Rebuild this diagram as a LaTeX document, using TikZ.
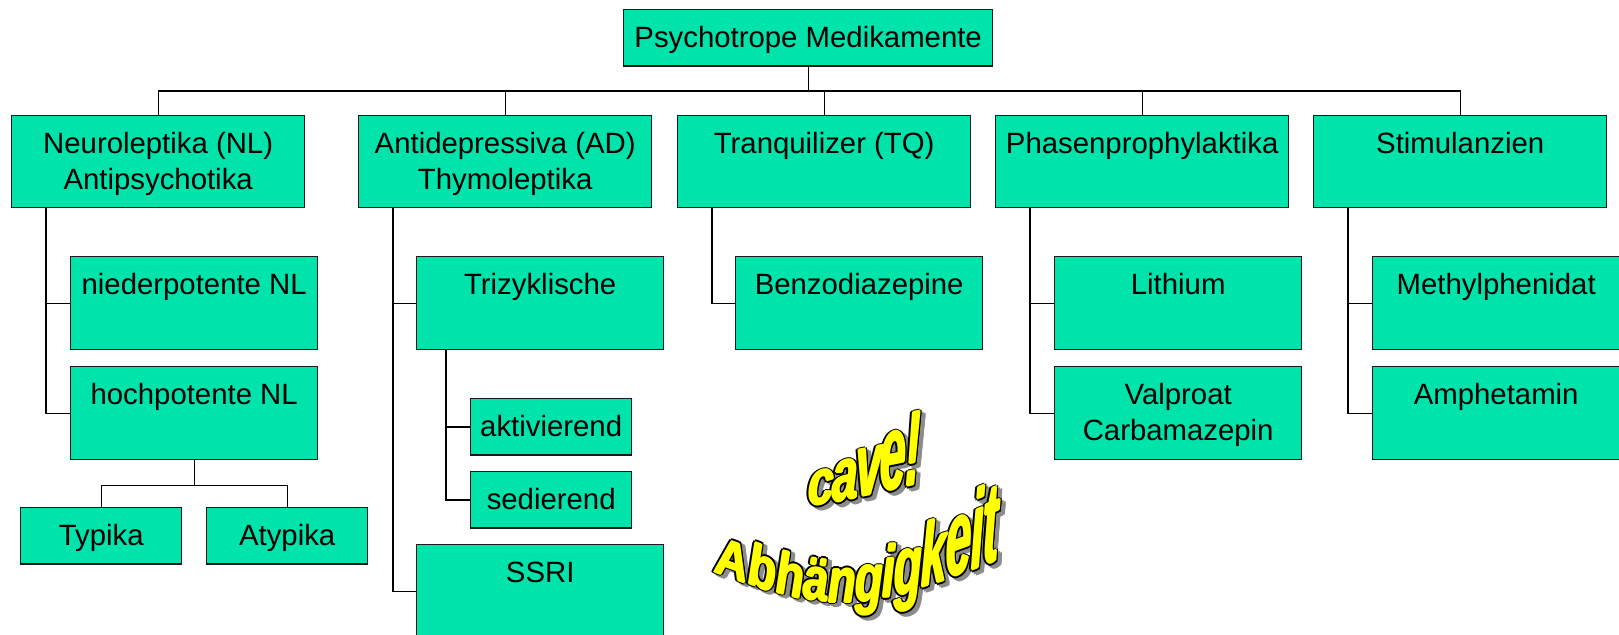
\documentclass[tikz,border=0pt]{standalone}
\usepackage{fontspec}
\setmainfont{Liberation Sans}
\usepackage{xcolor}
\usepackage{tikz}
\definecolor{boxgreen}{HTML}{00E3AA}
\definecolor{edge}{HTML}{1A1A1A}
\definecolor{wayellow}{HTML}{FFFF00}
\definecolor{wagray}{HTML}{8C8C8C}
\tikzset{
  box/.style={draw=edge, fill=boxgreen, line width=0.8pt, inner xsep=0pt, inner ysep=0pt,
    anchor=north west, text=black, text height=0.76cm, font=\fontsize{16.7}{20.5}\selectfont},
  big/.style={box, minimum width=5.86cm, text depth=1.08cm},
  mid/.style={box, minimum width=4.94cm, text depth=1.10cm},
  small/.style={box, minimum width=3.22cm, text depth=0.37cm},
  conn/.style={draw=black, line width=0.7pt},
  wa/.style={inner sep=0pt, anchor=base west, font=\fontsize{25}{25}\selectfont\bfseries\itshape}
}
\newcommand{\twolines}[2]{\begin{tabular}[t]{@{}c@{}}#1\\#2\end{tabular}}
% x/y/slant/xscale/yscale/letter
\newcommand{\walist}{%
  808/507/0.20/1.05/1.42/c, 832/503/0.20/1.05/1.68/a, 856/498/0.20/1.05/2.02/v,
  880/492/0.20/1.05/2.42/e, 905/487/0.20/1.05/2.40/!,
  715/572/-0.36/1.03/1.22/A, 748/583/-0.37/1.03/1.37/b, 776/592/-0.26/1.03/1.37/h,
  803/598/-0.13/1.03/1.37/ä, 828/602/0/1.03/1.42/n, 855/602/0.02/1.03/1.52/g,
  882/598/0.06/1.03/1.67/i, 894/596/0.14/1.03/1.87/g, 921/588/0.30/1.03/2.02/k,
  946/579/0.36/1.03/2.42/e, 971/571/0.40/1.03/2.52/i, 983/566/0.40/1.03/2.57/t}
\newcommand{\ring}{-2.6/0,2.6/0,0/-2.6,0/2.6,-1.8/-1.8,1.8/1.8,-1.8/1.8,1.8/-1.8}
\newcommand{\fat}{0/0,-1/0,1/0,0/-1,0/1}

\begin{document}
\begin{tikzpicture}[x=0.02cm, y=-0.02cm]
  \useasboundingbox (0,0) rectangle (1619,635);

  \node[small, minimum width=7.38cm] (PM) at (623,9) {Psychotrope Medikamente};

  \node[big] (NL) at (11,115) {\twolines{Neuroleptika (NL)}{Antipsychotika}};
  \node[big] (AD) at (358,115) {\twolines{Antidepressiva (AD)}{Thymoleptika}};
  \node[big] (TQ) at (677,115) {Tranquilizer (TQ)};
  \node[big] (PP) at (995,115) {Phasenprophylaktika};
  \node[big] (ST) at (1313,115) {Stimulanzien};

  \node[mid] (NP) at (70,256) {niederpotente NL};
  \node[mid] (HP) at (70,366) {hochpotente NL};
  \node[small] (TY) at (20,507) {Typika};
  \node[small] (AT) at (206,507) {Atypika};

  \node[mid] (TZ) at (416,256) {Trizyklische};
  \node[small] (AK) at (470,398) {aktivierend};
  \node[small] (SE) at (470,471) {sedierend};
  \node[mid] (SS) at (416,544) {SSRI};

  \node[mid] (BZ) at (735,256) {Benzodiazepine};

  \node[mid] (LI) at (1054,256) {Lithium};
  \node[mid] (VA) at (1054,366) {\twolines{Valproat}{Carbamazepin}};

  \node[mid] (MP) at (1372,256) {Methylphenidat};
  \node[mid] (AM) at (1372,366) {Amphetamin};

  % tree lines
  \foreach \n in {NL,AD,TQ,PP,ST}
    \draw[conn] (PM.south) -- ++(0,24) -| (\n.north);
  \draw[conn] (NL.south west) ++(35,0) |- (NP.west);
  \draw[conn] (NL.south west) ++(35,0) |- (HP.west);
  \draw[conn] (HP.south) -- ++(0,25) -| (TY.north);
  \draw[conn] (HP.south) -- ++(0,25) -| (AT.north);
  \draw[conn] (AD.south west) ++(35,0) |- (TZ.west);
  \draw[conn] (AD.south west) ++(35,0) |- (SS.west);
  \draw[conn] (TZ.south west) ++(30,0) |- (AK.west);
  \draw[conn] (TZ.south west) ++(30,0) |- (SE.west);
  \draw[conn] (TQ.south west) ++(35,0) |- (BZ.west);
  \draw[conn] (PP.south west) ++(35,0) |- (LI.west);
  \draw[conn] (PP.south west) ++(35,0) |- (VA.west);
  \draw[conn] (ST.south west) ++(35,0) |- (MP.west);
  \draw[conn] (ST.south west) ++(35,0) |- (AM.west);

  % word art: shadow, outline, fill
  \foreach \x/\y/\s/\h/\k/\ch in \walist
    \foreach \dx/\dy in \ring
      \node[wa, yslant=\s, xscale=\h, yscale=\k, text=wagray] at (\x+4+\dx,\y+3+\dy) {\ch};
  \foreach \x/\y/\s/\h/\k/\ch in \walist
    \foreach \dx/\dy in \ring
      \node[wa, yslant=\s, xscale=\h, yscale=\k, text=black] at (\x+\dx,\y+\dy) {\ch};
  \foreach \x/\y/\s/\h/\k/\ch [count=\i] in \walist
    \foreach \dx/\dy in \fat
      \node[wa, yslant=\s, xscale=\h, yscale=\k, text=wayellow] (W\i) at (\x+\dx,\y+\dy) {\ch};
\end{tikzpicture}
\end{document}
